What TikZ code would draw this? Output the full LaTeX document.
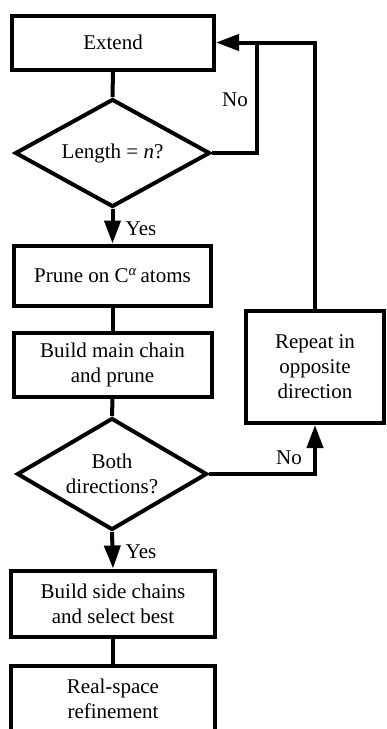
\documentclass[tikz,border=0pt]{standalone}
\usepackage{fontspec}
\setmainfont{Liberation Serif}
\usetikzlibrary{shapes.geometric,arrows.meta}
\begin{document}
\begin{tikzpicture}[x=1pt,y=-1pt,
  every node/.style={font=\fontsize{21}{25}\selectfont},
  box/.style={draw,line width=4pt,align=center,inner sep=0pt},
  dec/.style={draw,diamond,line width=4pt,align=center,inner sep=0pt,aspect=1.8},
  conn/.style={line width=4pt},
  arr/.style={conn,-{Triangle[length=23pt,width=16pt]}},
  lbl/.style={inner sep=0pt}]
\clip (0,0) rectangle (386,729);
\useasboundingbox (0,0) rectangle (386,729);
\node[box,minimum width=202pt,minimum height=54pt] (extend) at (113,42.5) {Extend};
\node[dec,minimum width=195pt,minimum height=108pt] (d1) at (112.5,153) {Length = \textit{n}?};
\node[box,minimum width=197pt,minimum height=60pt] (prune) at (112.5,275.5) {Prune on C\textsuperscript{\textit{α}}\,atoms};
\node[box,minimum width=198pt,minimum height=64pt] (build) at (112.5,364.5) {Build main chain\\and prune};
\node[dec,minimum width=190pt,minimum height=112pt] (d2) at (112,474) {Both\\directions?};
\node[box,minimum width=204pt,minimum height=66pt] (side) at (113,603.5) {Build side chains\\and select best};
\node[box,minimum width=204pt,minimum height=66pt] (real) at (113,698.5) {Real-space\\refinement};
\node[box,minimum width=138pt,minimum height=112pt] (repeat) at (315,367) {Repeat in\\opposite\\direction};
\coordinate (j) at (257,43);
\draw[conn] (extend.south) -- (d1.north);
\draw[arr] (d1.south) -- (prune.north);
\draw[conn] (prune.south) -- (build.north);
\draw[conn] (build.south) -- (d2.north);
\draw[arr] (d2.south) -- (side.north);
\draw[conn] (side.south) -- (real.north);
\draw[conn] (d1.east) -| (j);
\draw[arr] (repeat.north) |- (extend.east);
\draw[arr] (d2.east) -| (repeat.south);
\node[lbl] (yes1) at (141,229) {Yes};
\node[lbl] (yes2) at (141,552) {Yes};
\node[lbl] (no1) at (235,100) {No};
\node[lbl] (no2) at (289,458) {No};
\end{tikzpicture}
\end{document}
